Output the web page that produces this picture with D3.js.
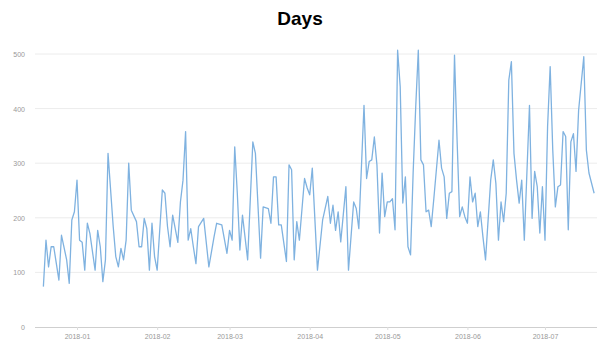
<!DOCTYPE html>
<html><head><meta charset="utf-8">
<script src="https://cdn.jsdelivr.net/npm/d3@7"></script>
<style>body{margin:0;background:#fff;} svg{display:block;}</style>
</head><body>
<svg id="c" width="601" height="350"></svg>
<script>
const dates = ["2017-12-19","2017-12-20","2017-12-21","2017-12-22","2017-12-23","2017-12-25","2017-12-26","2017-12-28","2017-12-29","2017-12-30","2017-12-31",
"2018-01-01","2018-01-02","2018-01-03","2018-01-04","2018-01-05","2018-01-06","2018-01-08","2018-01-09","2018-01-10","2018-01-11","2018-01-12","2018-01-13","2018-01-15","2018-01-16","2018-01-17","2018-01-18","2018-01-19","2018-01-20","2018-01-21","2018-01-22","2018-01-24","2018-01-25","2018-01-26","2018-01-27","2018-01-28","2018-01-29","2018-01-30","2018-01-31",
"2018-02-01","2018-02-03","2018-02-04","2018-02-05","2018-02-06","2018-02-07","2018-02-09","2018-02-10","2018-02-11","2018-02-12","2018-02-13","2018-02-14","2018-02-15","2018-02-16","2018-02-17","2018-02-19","2018-02-21","2018-02-23","2018-02-24","2018-02-26","2018-02-28",
"2018-03-01","2018-03-02","2018-03-03","2018-03-04","2018-03-05","2018-03-06","2018-03-08","2018-03-10","2018-03-11","2018-03-13","2018-03-14","2018-03-16","2018-03-17","2018-03-18","2018-03-19","2018-03-20","2018-03-21","2018-03-23","2018-03-24","2018-03-25","2018-03-26","2018-03-27","2018-03-28","2018-03-30","2018-03-31",
"2018-04-01","2018-04-02","2018-04-04","2018-04-06","2018-04-08","2018-04-09","2018-04-10","2018-04-11","2018-04-12","2018-04-13","2018-04-15","2018-04-16","2018-04-18","2018-04-19","2018-04-20","2018-04-22","2018-04-23","2018-04-24","2018-04-25","2018-04-26","2018-04-27","2018-04-28","2018-04-29","2018-04-30",
"2018-05-01","2018-05-02","2018-05-03","2018-05-04","2018-05-05","2018-05-06","2018-05-07","2018-05-08","2018-05-09","2018-05-10","2018-05-11","2018-05-12","2018-05-13","2018-05-14","2018-05-15","2018-05-16","2018-05-17","2018-05-18","2018-05-19","2018-05-21","2018-05-22","2018-05-23","2018-05-24","2018-05-25","2018-05-26","2018-05-27","2018-05-28","2018-05-29","2018-05-30","2018-05-31",
"2018-06-01","2018-06-02","2018-06-03","2018-06-04","2018-06-05","2018-06-06","2018-06-07","2018-06-08","2018-06-10","2018-06-11","2018-06-12","2018-06-13","2018-06-14","2018-06-15","2018-06-16","2018-06-17","2018-06-18","2018-06-19","2018-06-20","2018-06-21","2018-06-22","2018-06-23","2018-06-25","2018-06-26","2018-06-27","2018-06-28","2018-06-29","2018-06-30",
"2018-07-01","2018-07-02","2018-07-03","2018-07-04","2018-07-05","2018-07-06","2018-07-07","2018-07-08","2018-07-09","2018-07-10","2018-07-11","2018-07-12","2018-07-13","2018-07-14","2018-07-16","2018-07-17","2018-07-18","2018-07-20"];
const values = [74,159,110,147,147,86,168,123,80,196,211,
269,159,155,104,190,171,104,177,147,83,123,318,184,129,110,144,123,159,300,214,193,147,147,199,180,104,190,129,
104,251,245,184,147,205,155,229,269,358,159,180,147,116,184,199,110,165,190,187,135,
177,159,330,245,141,205,123,339,318,126,220,217,190,275,275,187,187,120,297,288,123,193,159,272,255,
242,291,104,196,239,190,223,177,211,156,257,104,229,217,180,406,272,303,306,348,297,172,282,202,
229,229,235,178,507,440,227,275,147,132,282,403,507,306,297,211,214,184,235,342,291,275,199,245,248,498,342,202,220,202,
190,275,229,245,184,211,165,123,269,306,263,159,229,193,245,452,486,318,269,227,269,159,406,199,285,257,172,257,
159,367,477,324,220,257,260,358,349,178,339,354,285,397,495,324,282,245];
const yTicks = [0,100,200,300,400,500];
const title = "Days";

const parse = d3.utcParse("%Y-%m-%d");
const data = dates.map((d,i)=>({date:parse(d), value:values[i]}));

const svg = d3.select("#c");
const plotL = 35, plotR = 597, plotT = 54, plotB = 327;

const x = d3.scaleUtc()
  .domain([parse("2018-01-01"), parse("2018-07-01")])
  .range([77, 545]);
const y = d3.scaleLinear().domain([0,500]).range([plotB, plotT]);

svg.append("text").attr("x", 300).attr("y", 25).attr("text-anchor","middle")
  .attr("font-family","Liberation Sans, Arial, sans-serif").attr("font-weight","bold")
  .attr("font-size", 19).attr("fill","#000").text(title);

// grid
svg.append("g").selectAll("line").data(yTicks.filter(t=>t>0)).join("line")
  .attr("x1", plotL).attr("x2", plotR)
  .attr("y1", d=>y(d)).attr("y2", d=>y(d))
  .attr("stroke","#ececec").attr("stroke-width",1);

// y labels
svg.append("g").selectAll("text").data(yTicks).join("text")
  .attr("x", 25).attr("y", d=>y(d)+3).attr("text-anchor","end")
  .attr("font-family","Liberation Sans, Arial, sans-serif").attr("font-size",7)
  .attr("fill","#999").text(d=>d);

// x axis baseline
svg.append("line").attr("x1",plotL).attr("x2",plotR)
  .attr("y1",plotB+0.5).attr("y2",plotB+0.5).attr("stroke","#cfcfcf");

const xAxis = d3.axisBottom(x).ticks(d3.utcMonth.every(1)).tickFormat(d3.utcFormat("%Y-%m")).tickSize(3);
const gx = svg.append("g").attr("transform",`translate(0,${plotB})`).call(xAxis);
gx.select(".domain").remove();
gx.selectAll(".tick line").attr("stroke","#ddd");
gx.selectAll("text").attr("font-family","Liberation Sans, Arial, sans-serif").attr("font-size",7).attr("fill","#999").attr("dy","0.9em");

const line = d3.line().x(d=>x(d.date)).y(d=>y(d.value)).curve(d3.curveLinear);
svg.append("path").datum(data).attr("d",line)
  .attr("fill","none").attr("stroke","#7fb2e0").attr("stroke-width",1.3)
  .attr("stroke-linejoin","round");
</script>
</body></html>
